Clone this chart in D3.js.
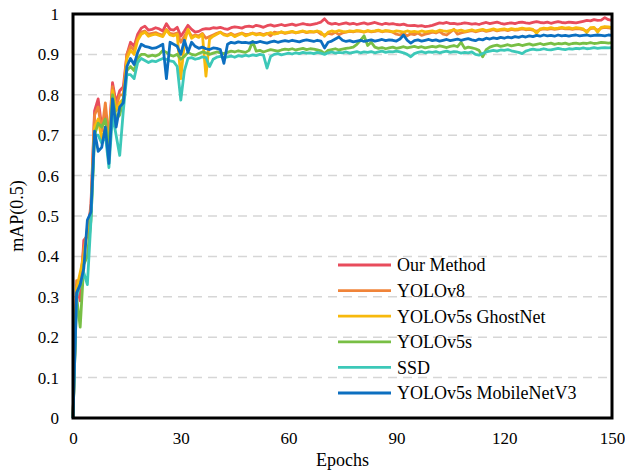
<!DOCTYPE html>
<meta charset="utf-8">
<script src="https://d3js.org/d3.v7.min.js"></script>
<style>
  body { margin: 0; background: #fff; }
  svg text { font-family: "Liberation Serif", Tinos, "Times New Roman", Times, serif !important; fill: #000; }
</style>
<div id="chart"></div>
<script>
// mAP(0.5) per epoch (epochs 0..150)
const seriesNames = ["Our Method", "YOLOv8", "YOLOv5s GhostNet", "YOLOv5s", "SSD", "YOLOv5s MobileNetV3"];
const seriesColors = ["#e84c5c", "#f0843a", "#f7b90c", "#78bf45", "#3cc8b8", "#0c6fc0"];
const xTicks = [0, 30, 60, 90, 120, 150];
const yTicks = [0, 0.1, 0.2, 0.3, 0.4, 0.5, 0.6, 0.7, 0.8, 0.9, 1];

const ourMethod = [
  0.00, 0.33, 0.29, 0.44, 0.45, 0.53, 0.76, 0.79, 0.72, 0.75,
  0.70, 0.83, 0.78, 0.81, 0.82, 0.90, 0.93, 0.92, 0.95, 0.965,
  0.970, 0.960, 0.962, 0.966, 0.963, 0.958, 0.976, 0.962, 0.960, 0.967,
  0.945, 0.958, 0.972, 0.962, 0.955, 0.957, 0.962, 0.964, 0.963, 0.966,
  0.965, 0.967, 0.964, 0.962, 0.966, 0.968, 0.967, 0.965, 0.969, 0.970,
  0.968, 0.972, 0.970, 0.967, 0.971, 0.973, 0.970, 0.972, 0.974, 0.971,
  0.973, 0.975, 0.972, 0.974, 0.976, 0.974, 0.973, 0.975, 0.977, 0.980,
  0.988, 0.978, 0.975, 0.977, 0.974, 0.976, 0.978, 0.975, 0.977, 0.974,
  0.976, 0.978, 0.975, 0.977, 0.979, 0.976, 0.974, 0.977, 0.975, 0.976,
  0.974, 0.973, 0.975, 0.972, 0.971, 0.972, 0.970, 0.971, 0.969, 0.970,
  0.972, 0.975, 0.978, 0.977, 0.979, 0.976, 0.977, 0.975, 0.976, 0.978,
  0.977, 0.975, 0.976, 0.974, 0.977, 0.979, 0.976, 0.978, 0.980, 0.977,
  0.975, 0.977, 0.978, 0.976, 0.979, 0.980, 0.978, 0.977, 0.979, 0.981,
  0.979, 0.978, 0.980, 0.977, 0.979, 0.981, 0.979, 0.978, 0.980, 0.979,
  0.978, 0.980, 0.982, 0.984, 0.983, 0.986, 0.984, 0.985, 0.991, 0.986,
  0.984
];
const yolov8 = [
  0.00, 0.34, 0.34, 0.42, 0.46, 0.52, 0.75, 0.77, 0.71, 0.78,
  0.69, 0.82, 0.77, 0.80, 0.80, 0.90, 0.92, 0.91, 0.94, 0.955,
  0.958, 0.950, 0.952, 0.954, 0.950, 0.948, 0.962, 0.952, 0.950, 0.953,
  0.930, 0.945, 0.960, 0.945, 0.948, 0.946, 0.952, 0.940, 0.944, 0.948,
  0.952, 0.955, 0.950, 0.948, 0.952, 0.947, 0.950, 0.953, 0.949, 0.950,
  0.953, 0.950, 0.952, 0.949, 0.952, 0.946, 0.955, 0.953, 0.955, 0.952,
  0.954, 0.956, 0.953, 0.955, 0.957, 0.954, 0.956, 0.955, 0.957, 0.950,
  0.948, 0.952, 0.950, 0.955, 0.949, 0.953, 0.955, 0.957, 0.956, 0.958,
  0.957, 0.955, 0.958, 0.956, 0.957, 0.959, 0.956, 0.958, 0.957, 0.955,
  0.950, 0.948, 0.952, 0.946, 0.951, 0.949, 0.953, 0.947, 0.950, 0.952,
  0.955, 0.953, 0.957, 0.950, 0.948, 0.955, 0.962, 0.950, 0.953, 0.955,
  0.957, 0.959, 0.956, 0.958, 0.960, 0.957, 0.959, 0.961, 0.958, 0.960,
  0.961, 0.959, 0.962, 0.960, 0.961, 0.963, 0.961, 0.962, 0.960, 0.957,
  0.961, 0.963, 0.962, 0.964, 0.962, 0.963, 0.965, 0.963, 0.964, 0.962,
  0.964, 0.963, 0.961, 0.958, 0.964, 0.965, 0.960, 0.965, 0.967, 0.966,
  0.964
];
const ghostNet = [
  0.00, 0.32, 0.36, 0.40, 0.47, 0.50, 0.72, 0.74, 0.69, 0.72,
  0.67, 0.81, 0.76, 0.78, 0.79, 0.89, 0.91, 0.90, 0.935, 0.950,
  0.955, 0.945, 0.948, 0.950, 0.947, 0.944, 0.960, 0.948, 0.946, 0.950,
  0.840, 0.930, 0.962, 0.940, 0.946, 0.942, 0.950, 0.846, 0.938, 0.945,
  0.950, 0.955, 0.948, 0.946, 0.950, 0.944, 0.948, 0.952, 0.946, 0.949,
  0.952, 0.948, 0.950, 0.947, 0.951, 0.954, 0.950, 0.952, 0.956, 0.953,
  0.955, 0.957, 0.954, 0.956, 0.958, 0.955, 0.957, 0.956, 0.958, 0.955,
  0.945, 0.955, 0.958, 0.956, 0.959, 0.957, 0.956, 0.958, 0.957, 0.959,
  0.958, 0.956, 0.959, 0.957, 0.958, 0.960, 0.957, 0.959, 0.958, 0.956,
  0.958, 0.957, 0.955, 0.958, 0.956, 0.957, 0.955, 0.958, 0.956, 0.957,
  0.958, 0.956, 0.960, 0.958, 0.957, 0.959, 0.961, 0.958, 0.960, 0.957,
  0.959, 0.961, 0.958, 0.960, 0.962, 0.959, 0.961, 0.963, 0.960, 0.962,
  0.963, 0.961, 0.964, 0.962, 0.963, 0.965, 0.963, 0.964, 0.962, 0.952,
  0.963, 0.965, 0.964, 0.966, 0.964, 0.965, 0.967, 0.965, 0.966, 0.964,
  0.966, 0.965, 0.963, 0.954, 0.966, 0.967, 0.955, 0.967, 0.969, 0.968,
  0.966
];
const yolov5s = [
  0.00, 0.30, 0.225, 0.38, 0.40, 0.49, 0.70, 0.73, 0.72, 0.74,
  0.66, 0.80, 0.74, 0.75, 0.79, 0.86, 0.87, 0.86, 0.89, 0.90,
  0.900, 0.895, 0.898, 0.896, 0.900, 0.910, 0.905, 0.898, 0.896, 0.900,
  0.888, 0.895, 0.905, 0.900, 0.898, 0.902, 0.906, 0.904, 0.900, 0.903,
  0.906, 0.904, 0.902, 0.905, 0.908, 0.906, 0.909, 0.907, 0.905, 0.910,
  0.932, 0.908, 0.910, 0.906, 0.909, 0.912, 0.910, 0.908, 0.911, 0.913,
  0.912, 0.914, 0.911, 0.913, 0.915, 0.912, 0.914, 0.913, 0.911, 0.909,
  0.902, 0.910, 0.912, 0.914, 0.911, 0.913, 0.915, 0.916, 0.918, 0.925,
  0.935, 0.946, 0.922, 0.930, 0.918, 0.915, 0.917, 0.914, 0.916, 0.918,
  0.915, 0.917, 0.919, 0.916, 0.918, 0.920, 0.917, 0.919, 0.916, 0.918,
  0.920, 0.918, 0.921, 0.919, 0.917, 0.920, 0.922, 0.919, 0.930, 0.915,
  0.918, 0.916, 0.914, 0.910, 0.894, 0.912, 0.918, 0.921, 0.923, 0.920,
  0.922, 0.924, 0.921, 0.923, 0.925, 0.922, 0.924, 0.926, 0.923, 0.925,
  0.927, 0.924, 0.926, 0.928, 0.925, 0.927, 0.926, 0.928, 0.925, 0.927,
  0.928, 0.926, 0.928, 0.927, 0.929, 0.927, 0.928, 0.930, 0.929, 0.928,
  0.929
];
const ssd = [
  0.00, 0.30, 0.33, 0.36, 0.33, 0.49, 0.70, 0.70, 0.68, 0.70,
  0.62, 0.75, 0.70, 0.65, 0.76, 0.85, 0.85, 0.84, 0.88, 0.89,
  0.885, 0.880, 0.884, 0.882, 0.886, 0.890, 0.888, 0.884, 0.882, 0.870,
  0.787, 0.860, 0.890, 0.892, 0.888, 0.890, 0.894, 0.892, 0.870, 0.888,
  0.893, 0.895, 0.892, 0.894, 0.896, 0.893, 0.897, 0.895, 0.898, 0.896,
  0.899, 0.897, 0.900, 0.898, 0.866, 0.895, 0.900, 0.902, 0.899, 0.901,
  0.903, 0.901, 0.904, 0.902, 0.905, 0.903, 0.904, 0.902, 0.905, 0.903,
  0.900, 0.904, 0.906, 0.903, 0.905, 0.904, 0.906, 0.903, 0.905, 0.907,
  0.904, 0.906, 0.905, 0.907, 0.904, 0.906, 0.908, 0.905, 0.907, 0.906,
  0.908, 0.906, 0.904, 0.900, 0.894, 0.902, 0.905, 0.907, 0.904, 0.906,
  0.905, 0.907, 0.904, 0.906, 0.908, 0.905, 0.907, 0.906, 0.903, 0.905,
  0.904, 0.906, 0.900, 0.898, 0.902, 0.906, 0.908, 0.910, 0.908, 0.911,
  0.910, 0.912, 0.909, 0.907, 0.905, 0.902, 0.908, 0.911, 0.913, 0.911,
  0.912, 0.914, 0.912, 0.911, 0.913, 0.915, 0.913, 0.912, 0.914, 0.913,
  0.915, 0.914, 0.916, 0.914, 0.915, 0.917, 0.915, 0.916, 0.917, 0.916,
  0.917
];
const mobileNet = [
  0.00, 0.31, 0.33, 0.37, 0.49, 0.51, 0.71, 0.66, 0.67, 0.72,
  0.63, 0.79, 0.72, 0.77, 0.78, 0.87, 0.89, 0.875, 0.905, 0.925,
  0.920, 0.918, 0.915, 0.916, 0.920, 0.925, 0.840, 0.930, 0.925, 0.920,
  0.900, 0.935, 0.905, 0.930, 0.920, 0.915, 0.918, 0.914, 0.912, 0.916,
  0.915, 0.912, 0.878, 0.925, 0.930, 0.928, 0.931, 0.929, 0.930, 0.928,
  0.931, 0.929, 0.932, 0.930, 0.928, 0.931, 0.933, 0.930, 0.932, 0.934,
  0.932, 0.935, 0.933, 0.931, 0.934, 0.936, 0.934, 0.932, 0.935, 0.933,
  0.916, 0.930, 0.933, 0.938, 0.943, 0.935, 0.932, 0.934, 0.931, 0.933,
  0.935, 0.932, 0.934, 0.936, 0.933, 0.935, 0.937, 0.934, 0.936, 0.935,
  0.933, 0.938, 0.948, 0.935, 0.928, 0.934, 0.936, 0.933, 0.935, 0.937,
  0.934, 0.936, 0.933, 0.935, 0.937, 0.934, 0.936, 0.938, 0.935, 0.937,
  0.939, 0.936, 0.934, 0.938, 0.936, 0.940, 0.938, 0.941, 0.939, 0.942,
  0.940, 0.943, 0.941, 0.944, 0.942, 0.945, 0.943, 0.946, 0.944, 0.947,
  0.945, 0.948, 0.946, 0.947, 0.945, 0.948, 0.946, 0.947, 0.945, 0.947,
  0.948, 0.946, 0.947, 0.948, 0.946, 0.947, 0.948, 0.947, 0.946, 0.948,
  0.947
];
const seriesValues = [ourMethod, yolov8, ghostNet, yolov5s, ssd, mobileNet];

// layout
const W = 625, H = 470;
const margin = {top: 14, right: 13, bottom: 52, left: 73};
const width = W - margin.left - margin.right,
      height = H - margin.top - margin.bottom;
const serif = "'Liberation Serif', Tinos, 'Times New Roman', Times, serif";

const svg = d3.select("#chart").append("svg")
    .attr("width", W).attr("height", H)
    .attr("font-family", serif);
const g = svg.append("g")
    .attr("transform", `translate(${margin.left},${margin.top})`);

const x = d3.scaleLinear().domain([0, 150]).range([0, width]);
const y = d3.scaleLinear().domain([0, 1]).range([height, 0]);

// dashed grid lines
g.append("g").selectAll("line")
  .data(yTicks.filter(d => d > 0 && d < 1))
  .join("line")
    .attr("x1", 0).attr("x2", width)
    .attr("y1", d => y(d)).attr("y2", d => y(d))
    .attr("stroke", "#d6d6d6")
    .attr("stroke-width", 1.5)
    .attr("stroke-dasharray", "9,6");

// series lines, first drawn first so MobileNetV3 ends up on top
const line = d3.line().x((d, i) => x(i)).y(d => y(d));
seriesValues.forEach((vals, k) => {
  g.append("path")
    .datum(vals)
    .attr("fill", "none")
    .attr("stroke", seriesColors[k])
    .attr("stroke-width", 2.8)
    .attr("stroke-linejoin", "round")
    .attr("d", line);
});

// axes (labels only, no tick marks)
const xAxis = g.append("g")
    .attr("transform", `translate(0,${height})`)
    .call(d3.axisBottom(x).tickValues(xTicks).tickSize(0).tickPadding(14));
xAxis.attr("font-family", serif).attr("font-size", 17);
xAxis.select(".domain").remove();

const yAxis = g.append("g")
    .call(d3.axisLeft(y).tickValues(yTicks).tickSize(0).tickPadding(14)
      .tickFormat(d => d3.format("")(+d.toFixed(1))));
yAxis.attr("font-family", serif).attr("font-size", 17);
yAxis.select(".domain").remove();

// frame
g.append("rect")
    .attr("width", width).attr("height", height)
    .attr("fill", "none").attr("stroke", "#000").attr("stroke-width", 3);

// axis titles
svg.append("text")
    .attr("x", margin.left + width / 2).attr("y", 466)
    .attr("text-anchor", "middle").attr("font-size", 18)
    .text("Epochs");
svg.append("text")
    .attr("transform", `translate(23,${margin.top + height / 2}) rotate(-90)`)
    .attr("text-anchor", "middle").attr("font-size", 18)
    .text("mAP(0.5)");

// legend
const legend = g.append("g").attr("transform", "translate(265,251)");
seriesNames.forEach((name, k) => {
  const row = legend.append("g").attr("transform", `translate(0,${k * 25.6})`);
  row.append("line")
    .attr("x1", 0).attr("x2", 53)
    .attr("stroke", seriesColors[k]).attr("stroke-width", 2.8);
  row.append("text")
    .attr("x", 59).attr("dy", "0.35em")
    .attr("font-size", 18)
    .text(name);
});
</script>
</html>
